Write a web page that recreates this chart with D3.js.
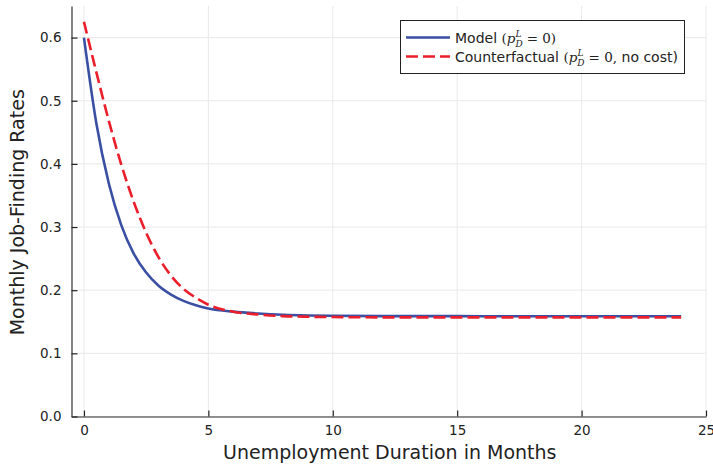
<!DOCTYPE html>
<html>
<head>
<meta charset="utf-8">
<script src="https://cdn.jsdelivr.net/npm/d3@7"></script>
<style>
  html, body { margin: 0; padding: 0; background: #fff; }
  svg { display: block; font-family: "DejaVu Sans", sans-serif; }
</style>
</head>
<body>
<svg id="chart" width="713" height="468"></svg>
<script>
// Unemployment duration (months)
const months = [0, 0.5, 1, 1.5, 2, 2.5, 3, 3.5, 4, 4.5, 5, 6, 7, 8, 9, 10, 12, 14, 16, 18, 20, 22, 24];
// Model (p_D^L = 0)
const modelRates = [0.600, 0.464, 0.369, 0.303, 0.258, 0.228, 0.207, 0.193, 0.183, 0.176, 0.171, 0.166, 0.163, 0.161, 0.160, 0.1595, 0.159, 0.159, 0.1588, 0.1588, 0.1588, 0.1588, 0.1588];
// Counterfactual (p_D^L = 0, no cost)
const counterRates = [0.625, 0.545, 0.468, 0.399, 0.340, 0.291, 0.252, 0.223, 0.202, 0.188, 0.177, 0.166, 0.1615, 0.159, 0.158, 0.1575, 0.157, 0.157, 0.157, 0.157, 0.157, 0.157, 0.157];

const xTicks = [0, 5, 10, 15, 20, 25];
const yTicks = [0.0, 0.1, 0.2, 0.3, 0.4, 0.5, 0.6];

const svg = d3.select("#chart");
const plotLeft = 71.5, plotRight = 706, plotTop = 6, plotBottom = 416.5;

const x = d3.scaleLinear().domain([-0.5, 25]).range([plotLeft, plotRight]);
const y = d3.scaleLinear().domain([0, 0.65]).range([plotBottom, plotTop]);

// grid
const grid = svg.append("g").attr("stroke", "#e9e9e9").attr("stroke-width", 1);
grid.selectAll(".gx").data(xTicks).join("line")
  .attr("x1", d => x(d)).attr("x2", d => x(d)).attr("y1", plotTop).attr("y2", plotBottom);
grid.selectAll(".gy").data(yTicks).join("line")
  .attr("x1", plotLeft).attr("x2", plotRight).attr("y1", d => y(d)).attr("y2", d => y(d));

// axes
const xAxis = svg.append("g").attr("transform", `translate(0,${plotBottom})`)
  .call(d3.axisBottom(x).tickValues(xTicks).tickSizeInner(-6).tickSizeOuter(0).tickPadding(9).tickFormat(d3.format("d")));
const yAxis = svg.append("g").attr("transform", `translate(${plotLeft},0)`)
  .call(d3.axisLeft(y).tickValues(yTicks).tickSizeInner(-6).tickSizeOuter(0).tickPadding(10).tickFormat(d3.format(".1f")));

[xAxis, yAxis].forEach(a => {
  a.select(".domain").attr("stroke", "#6e6e6e").attr("stroke-width", 1.7);
  a.selectAll(".tick line").attr("stroke", "#222").attr("stroke-width", 1.2);
  a.selectAll(".tick text").attr("fill", "#222").attr("font-size", 13.5).attr("font-family", "DejaVu Sans");
});

// curves
const line = d3.line().x(d => x(d[0])).y(d => y(d[1])).curve(d3.curveMonotoneX);

svg.append("path")
  .datum(months.map((m, i) => [m, modelRates[i]]))
  .attr("d", line)
  .attr("fill", "none").attr("stroke", "#3a4fa3").attr("stroke-width", 2.6);

svg.append("path")
  .datum(months.map((m, i) => [m, counterRates[i]]))
  .attr("d", line)
  .attr("fill", "none").attr("stroke", "#ea1f2b").attr("stroke-width", 2.6)
  .attr("stroke-dasharray", "12,5");

// axis titles
svg.append("text")
  .attr("x", (plotLeft + plotRight) / 2 + 1).attr("y", 459)
  .attr("text-anchor", "middle").attr("font-size", 19).attr("fill", "#222")
  .text("Unemployment Duration in Months");

svg.append("text")
  .attr("transform", `translate(24,${(plotTop + plotBottom) / 2 + 1}) rotate(-90)`)
  .attr("text-anchor", "middle").attr("font-size", 19).attr("fill", "#222")
  .text("Monthly Job-Finding Rates");

// legend
const lg = svg.append("g");
lg.append("rect").attr("x", 400.5).attr("y", 20.5).attr("width", 284).attr("height", 53)
  .attr("fill", "#fff").attr("stroke", "#222").attr("stroke-width", 1);

const entries = [
  { label: "Model", tail: "= 0)", color: "#3a4fa3", dash: null, y: 37.5 },
  { label: "Counterfactual", tail: "= 0,", extra: " no cost)", color: "#ea1f2b", dash: "12,5", y: 56.5 }
];
entries.forEach(e => {
  lg.append("line").attr("x1", 406).attr("x2", 450).attr("y1", e.y).attr("y2", e.y)
    .attr("stroke", e.color).attr("stroke-width", 2.6).attr("stroke-dasharray", e.dash);
  const t = lg.append("text").attr("x", 455).attr("y", e.y + 5).attr("font-size", 14).attr("fill", "#222");
  t.append("tspan").text(e.label + " ");
  t.append("tspan").attr("font-family", "DejaVu Serif").attr("font-size", 13.5).text("(");
  t.append("tspan").attr("font-family", "DejaVu Serif").attr("font-style", "italic").attr("font-size", 13.5).text("p");
  t.append("tspan").attr("font-family", "DejaVu Serif").attr("font-style", "italic").attr("font-size", 9).attr("dy", -6).text("L");
  t.append("tspan").attr("font-family", "DejaVu Serif").attr("font-style", "italic").attr("font-size", 9).attr("dx", -6).attr("dy", 10).text("D");
  t.append("tspan").attr("font-family", "DejaVu Serif").attr("font-size", 13.5).attr("dx", 4).attr("dy", -4).text(e.tail);
  if (e.extra) t.append("tspan").text(e.extra);
});
</script>
</body>
</html>
